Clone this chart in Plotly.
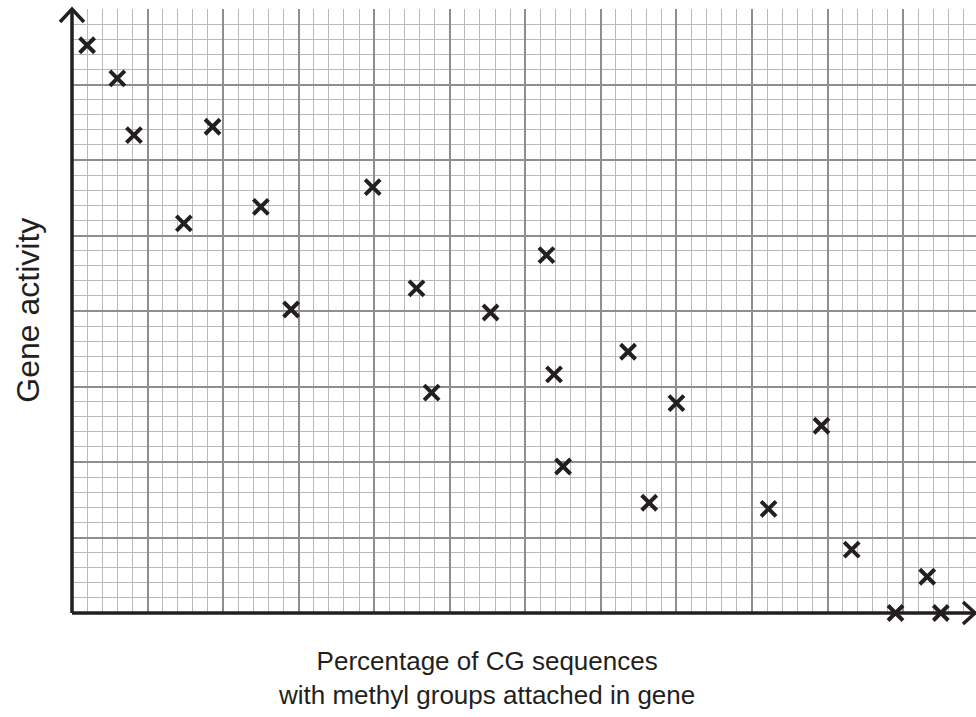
import plotly.graph_objects as go

# Data in minor-grid units (x: 0..60, y: 0..40)
methylation = [1.0, 3.0, 4.1, 9.3, 7.4, 12.5, 19.9, 14.5, 22.8, 27.7, 31.4, 31.9,
               23.8, 36.8, 32.5, 40.0, 38.2, 49.6, 46.1, 51.6, 56.6, 54.5, 57.5]
activity = [37.6, 35.4, 31.65, 32.2, 25.8, 26.9, 28.2, 20.1, 21.5, 19.9, 23.7, 15.8,
            14.6, 17.3, 9.7, 13.9, 7.3, 12.4, 6.9, 4.2, 2.4, 0.0, 0.0]

x_title = "Percentage of CG sequences<br>with methyl groups attached in gene"
y_title = "Gene activity"

W, H = 976, 717
ML, MR, MT, MB = 72, 0, 9, 104
unit_px = 15.11
x_max = (W - ML - MR) / unit_px
y_max = 40

ink = "#231f20"

fig = go.Figure()
fig.add_trace(go.Scatter(
    x=methylation, y=activity, mode="markers", cliponaxis=False,
    marker=dict(symbol="x-thin-open", size=15, color=ink,
                line=dict(color=ink, width=4)),
    hoverinfo="skip", showlegend=False,
))

axis_common = dict(
    showticklabels=False, ticks="", zeroline=False, showline=False,
    showgrid=True, gridcolor="#8e8e8e", gridwidth=1.6, dtick=5, tick0=0,
    minor=dict(showgrid=True, dtick=1, tick0=0, gridcolor="#b9b9b9", gridwidth=1.3),
    fixedrange=True,
)

fig.update_layout(
    width=W, height=H,
    margin=dict(l=ML, r=MR, t=MT, b=MB, pad=0),
    paper_bgcolor="white", plot_bgcolor="white",
    xaxis=dict(range=[0, x_max], **axis_common),
    yaxis=dict(range=[0, y_max], **axis_common),
    font=dict(family="Liberation Sans, Arial, sans-serif", color=ink, size=26),
)

# axis lines with open arrowheads (pixel-sized via paper coords)
pw = W - ML - MR
ph = H - MT - MB
px = lambda p: p / pw
py = lambda p: p / ph
lw = 3.5
shapes = [
    dict(type="line", xref="paper", yref="paper", x0=0, y0=0, x1=1, y1=0,
         line=dict(color=ink, width=lw)),
    dict(type="line", xref="paper", yref="paper", x0=0, y0=0, x1=0, y1=1 - py(0.5),
         line=dict(color=ink, width=lw)),
    # right arrowhead
    dict(type="path", xref="paper", yref="paper",
         path=f"M {1 - px(13)},{py(11)} L {1 - px(1)},0 L {1 - px(13)},{-py(11)}",
         line=dict(color=ink, width=lw)),
    # top arrowhead
    dict(type="path", xref="paper", yref="paper",
         path=f"M {-px(12)},{1 - py(13)} L 0,{1 + py(0)} L {px(12)},{1 - py(13)}",
         line=dict(color=ink, width=lw)),
]
fig.update_layout(shapes=shapes)

fig.add_annotation(
    text=x_title, xref="paper", yref="paper", x=(486 - ML) / pw, y=0,
    xanchor="center", yanchor="top", yshift=-31, showarrow=False,
    font=dict(size=26, color=ink), align="center",
)
fig.add_annotation(
    text=y_title, xref="paper", yref="paper", x=(28 - ML) / pw, y=(613.3 - 311) / ph,
    xanchor="center", yanchor="middle", textangle=-90, showarrow=False,
    font=dict(size=32, color=ink),
)

fig.write_html("out.html")
